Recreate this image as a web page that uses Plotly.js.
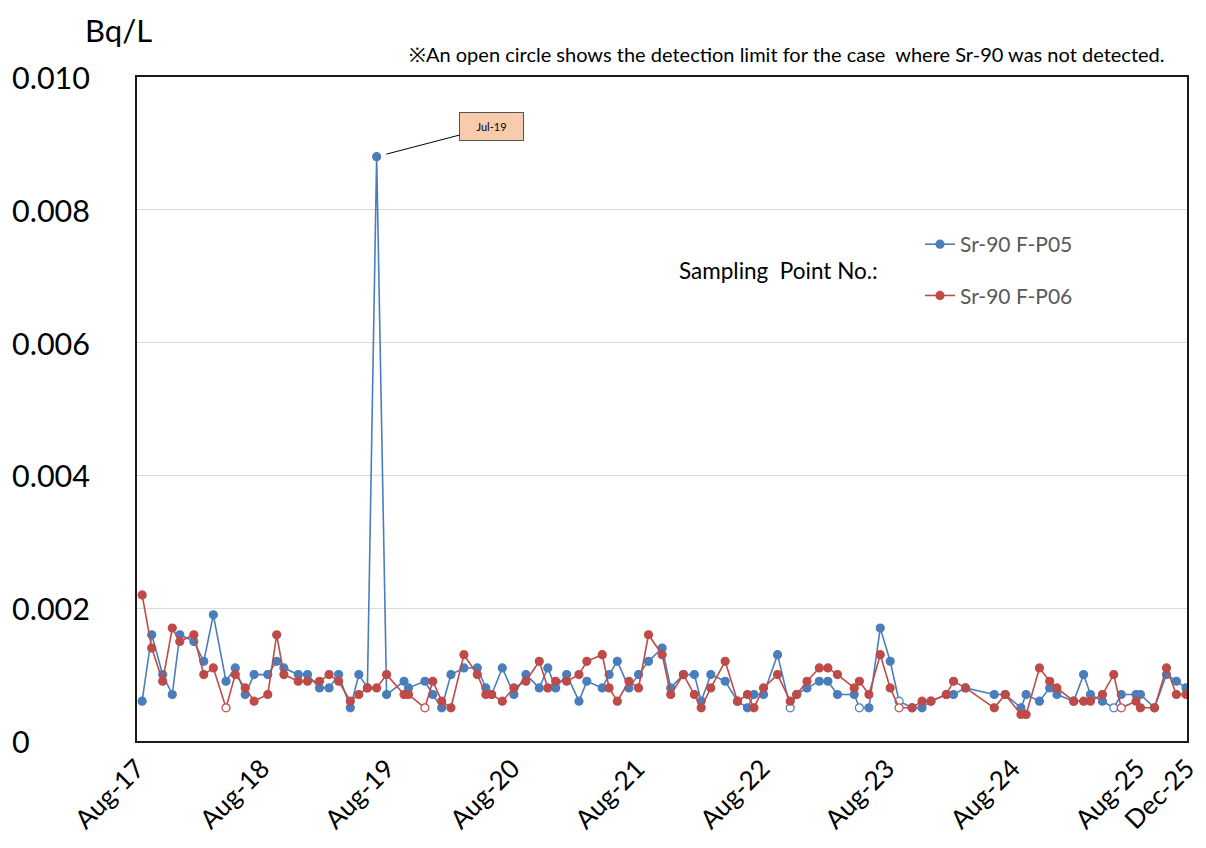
<!DOCTYPE html>
<html>
<head>
<meta charset="utf-8">
<script src="https://cdn.plot.ly/plotly-3.0.1.min.js"></script>
<style>
html,body{margin:0;padding:0;background:#fff;}
#chart{width:1206px;height:848px;}
</style>
</head>
<body>
<div id="chart"></div>
<script>
const sampleDates = [
 '2017-08-16','2017-09-13','2017-10-15','2017-11-12','2017-12-04','2018-01-14','2018-02-12','2018-03-12','2018-04-18','2018-05-15',
 '2018-06-13','2018-07-09','2018-08-18','2018-09-13','2018-10-04','2018-11-15','2018-12-12','2019-01-16','2019-02-13','2019-03-13',
 '2019-04-16','2019-05-11','2019-06-05','2019-07-02','2019-07-31','2019-09-20','2019-10-03','2019-11-20','2019-12-13','2020-01-08',
 '2020-02-04','2020-03-13','2020-04-21','2020-05-16','2020-06-02','2020-07-03','2020-08-06','2020-09-10','2020-10-19','2020-11-13',
 '2020-12-06','2021-01-07','2021-02-12','2021-03-07','2021-04-21','2021-05-11','2021-06-04','2021-07-08','2021-08-05','2021-09-03',
 '2021-10-13','2021-11-07','2021-12-14','2022-01-15','2022-02-04','2022-03-04','2022-04-15','2022-05-21','2022-06-19','2022-07-08',
 '2022-08-05','2022-09-15','2022-10-22','2022-11-10','2022-12-10','2023-01-15','2023-02-09','2023-03-09','2023-04-27','2023-05-12',
 '2023-06-09','2023-07-12','2023-08-10','2023-09-05','2023-10-13','2023-11-11','2023-12-07','2024-01-21','2024-02-11','2024-03-17',
 '2024-06-09','2024-07-11','2024-08-26','2024-09-10','2024-10-19','2024-11-18','2024-12-09','2025-01-27','2025-02-25','2025-03-17',
 '2025-04-21','2025-05-24','2025-06-15','2025-07-28','2025-08-10','2025-09-20','2025-10-25','2025-11-23','2025-12-21'
];
const srFP05 = [
 0.0006,0.0016,0.0010,0.0007,0.0016,0.0015,0.0012,0.0019,0.0009,0.0011,
 0.0007,0.0010,0.0010,0.0012,0.0011,0.0010,0.0010,0.0008,0.0008,0.0010,
 0.0005,0.0010,0.0008,0.0088,0.0007,0.0009,0.0008,0.0009,0.0007,0.0005,
 0.0010,0.0011,0.0011,0.0008,0.0007,0.0011,0.0007,0.0010,0.0008,0.0011,
 0.0008,0.0010,0.0006,0.0009,0.0008,0.0010,0.0012,0.0008,0.0010,0.0012,
 0.0014,0.0008,0.0010,0.0010,0.0006,0.0010,0.0009,0.0006,0.0005,0.0007,
 0.0007,0.0013,0.0005,0.0007,0.0008,0.0009,0.0009,0.0007,0.0007,0.0005,
 0.0005,0.0017,0.0012,0.0006,0.0005,0.0005,0.0006,0.0007,0.0007,0.0008,
 0.0007,0.0007,0.0005,0.0007,0.0006,0.0008,0.0007,0.0006,0.0010,0.0007,
 0.0006,0.0005,0.0007,0.0007,0.0007,0.0005,0.0010,0.0009,0.0008
];
const srFP06 = [
 0.0022,0.0014,0.0009,0.0017,0.0015,0.0016,0.0010,0.0011,0.0005,0.0010,
 0.0008,0.0006,0.0007,0.0016,0.0010,0.0009,0.0009,0.0009,0.0010,0.0009,
 0.0006,0.0007,0.0008,0.0008,0.0010,0.0007,0.0007,0.0005,0.0009,0.0006,
 0.0005,0.0013,0.0010,0.0007,0.0007,0.0006,0.0008,0.0009,0.0012,0.0008,
 0.0009,0.0009,0.0010,0.0012,0.0013,0.0008,0.0006,0.0009,0.0008,0.0016,
 0.0013,0.0007,0.0010,0.0007,0.0005,0.0008,0.0012,0.0006,0.0007,0.0005,
 0.0008,0.0010,0.0006,0.0007,0.0009,0.0011,0.0011,0.0010,0.0008,0.0009,
 0.0007,0.0013,0.0008,0.0005,0.0005,0.0006,0.0006,0.0007,0.0009,0.0008,
 0.0005,0.0007,0.0004,0.0004,0.0011,0.0009,0.0008,0.0006,0.0006,0.0006,
 0.0007,0.0010,0.0005,0.0006,0.0005,0.0005,0.0011,0.0007,0.0007
];
// Dates where Sr-90 was not detected (value = detection limit, open circle)
const fp05NotDetected = ['2022-10-22','2023-05-12','2023-09-05','2025-05-24'];
const fp06NotDetected = ['2018-04-18','2019-11-20','2023-09-05','2025-06-15'];

const seriesNames = ['Sr-90 F-P05','Sr-90 F-P06'];
const yTickVals = [0,0.002,0.004,0.006,0.008,0.010];
const yTickText = ['0','0.002','0.004','0.006','0.008','0.010'];
const xTickVals = ['2017-08-01','2018-08-01','2019-08-01','2020-08-01','2021-08-01','2022-08-01','2023-08-01','2024-08-01','2025-08-01','2025-12-24'];
const xTickText = ['Aug-17','Aug-18','Aug-19','Aug-20','Aug-21','Aug-22','Aug-23','Aug-24','Aug-25','Dec-25'];
const xRange = ['2017-08-01','2025-12-24'];
const peakLabel = {date:'2019-07-02', value:0.0088, text:'Jul-19'};

const BLUE = '#4A7EBB', RED = '#BE4B48';
function fills(nd, color){ return sampleDates.map(d => nd.includes(d) ? '#ffffff' : color); }

const traces = [
 {x:sampleDates, y:srFP05, name:seriesNames[0], type:'scatter', mode:'lines+markers', legendgroup:'a',
  line:{color:BLUE, width:1.6}, marker:{size:8, color:fills(fp05NotDetected, BLUE), line:{color:BLUE, width:1.2}}},
 {x:sampleDates, y:srFP06, name:seriesNames[1], type:'scatter', mode:'lines+markers', legendgroup:'b',
  line:{color:RED, width:1.6}, marker:{size:8, color:fills(fp06NotDetected, RED), line:{color:RED, width:1.2}}}
];

const FONT = 'Lato, "Open Sans", sans-serif';
const annotations = yTickVals.map((v,i)=>({
 xref:'paper', yref:'y', x:-127/1050, y:v, xanchor:'left', yanchor:'middle',
 text:yTickText[i], showarrow:false, font:{family:FONT, size:30.5, color:'#000'}
}));
annotations.push(
 {xref:'paper', yref:'paper', x:-54/1050, y:(741-30)/664, xanchor:'left', yanchor:'middle', text:'Bq/L', showarrow:false,
  font:{family:FONT, size:31, color:'#000'}},
 {xref:'paper', yref:'paper', x:(1167-137)/1050, y:(741-54)/664, xanchor:'right', yanchor:'middle',
  text:'※An open circle shows the detection limit for the case  where Sr-90 was not detected.', showarrow:false,
  font:{family:FONT, size:20, color:'#000'}},
 {xref:'paper', yref:'paper', x:(677-137)/1050, y:(741-270)/664, xanchor:'left', yanchor:'middle', text:'Sampling  Point No.:', showarrow:false,
  font:{family:FONT, size:22.5, color:'#000'}},
 {x:peakLabel.date, y:peakLabel.value, xref:'x', yref:'y', text:peakLabel.text, showarrow:true, arrowhead:0, arrowwidth:1,
  arrowcolor:'#000', ax:115, ay:-30, standoff:10, bgcolor:'#F8CBAD', bordercolor:'#555', borderwidth:1,
  width:61, height:25, font:{family:FONT, size:11, color:'#000'}}
);

const layout = {
 width:1206, height:848,
 margin:{l:137, r:19, t:77, b:107},
 paper_bgcolor:'#fff', plot_bgcolor:'#fff',
 showlegend:true,
 legend:{x:(920-137)/1050, y:(741-224)/664, xanchor:'left', yanchor:'top', bgcolor:'rgba(0,0,0,0)',
   font:{family:FONT, size:21, color:'#595959'}, tracegroupgap:21, itemwidth:30},
 xaxis:{type:'date', range:xRange, tickvals:xTickVals, ticktext:xTickText, tickangle:-45,
   tickfont:{family:FONT, size:26, color:'#000'}, showgrid:false, zeroline:false, ticks:'',
   showline:true, linecolor:'#1a1a1a', linewidth:2, mirror:true},
 yaxis:{range:[0,0.010], tickvals:yTickVals, showticklabels:false, showgrid:true, gridcolor:'#d9d9d9', gridwidth:1,
   zeroline:false, ticks:'', showline:true, linecolor:'#1a1a1a', linewidth:2, mirror:true},
 annotations:annotations
};

Plotly.newPlot('chart', traces, layout, {displayModeBar:false, staticPlot:true});
</script>
</body>
</html>
